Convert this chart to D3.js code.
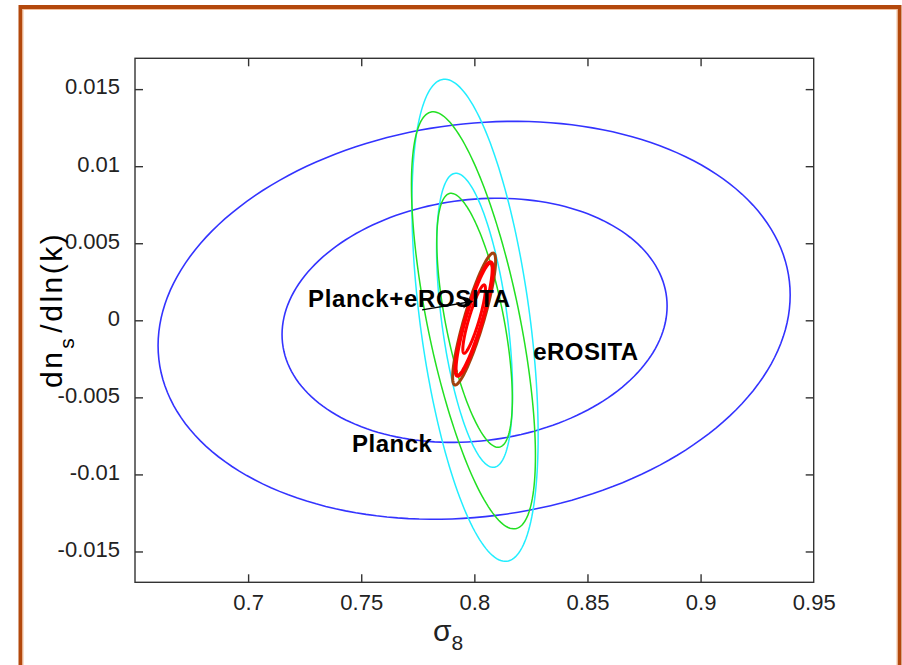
<!DOCTYPE html>
<html>
<head>
<meta charset="utf-8">
<script src="https://cdn.jsdelivr.net/npm/d3@7/dist/d3.min.js"></script>
<style>
  body { margin: 0; background: #fff; }
  svg { display: block; }
  text { font-family: "Liberation Sans", Arial, sans-serif; }
</style>
</head>
<body>
<svg id="chart" width="902" height="665"></svg>
<script>
// contour ellipses (sigma8 vs running index)
var contourNames = ["Planck 2sig", "Planck 1sig", "eROSITA-b 2sig", "eROSITA-b 1sig",
                    "eROSITA-a 2sig", "eROSITA-a 1sig", "joint 2sig", "joint 1sig", "joint core"];
var centerSigma8 = [0.7999, 0.8001, 0.8003, 0.8001, 0.7996, 0.8001, 0.7999, 0.7999, 0.7999];
var centerRun    = [0.0000, 0.0000, 0.0000, 0.0000, 0.0000, 0.0000, 0.00008, 0.00008, 0.00008];
var halfSigma8   = [0.1397, 0.0851, 0.0279, 0.0168, 0.0274, 0.0167, 0.0095, 0.0082, 0.0050];
var halfRun      = [0.01291, 0.00792, 0.01564, 0.00954, 0.01353, 0.00824, 0.00428, 0.00368, 0.00222];
var correlation  = [0.127, 0.117, -0.48, -0.49, -0.65, -0.62, 0.88, 0.88, 0.88];

var xTicks = [0.7, 0.75, 0.8, 0.85, 0.9, 0.95];
var xTickLabels = ["0.7", "0.75", "0.8", "0.85", "0.9", "0.95"];
var yTicks = [0.015, 0.01, 0.005, 0, -0.005, -0.01, -0.015];
var yTickLabels = ["0.015", "0.01", "0.005", "0", "-0.005", "-0.01", "-0.015"];

// text labels and arrow, in data units
var labelTexts = ["Planck+eROSITA", "eROSITA", "Planck"];
var labelSigma8 = [0.7265, 0.8260, 0.7459];
var labelRun = [0.00086, -0.00258, -0.00855];
var arrowFrom = [0.7769, 0.00067];
var arrowTo = [0.7990, 0.00122];

// styles
var strokes = {
  "Planck 2sig": ["#3333ff", 1.6], "Planck 1sig": ["#3333ff", 1.6],
  "eROSITA-b 2sig": ["#22eeff", 1.5], "eROSITA-b 1sig": ["#22eeff", 1.5],
  "eROSITA-a 2sig": ["#22e022", 1.5], "eROSITA-a 1sig": ["#22e022", 1.5],
  "joint 2sig": ["#a3420e", 3], "joint 1sig": ["#ff0000", 4], "joint core": ["#ff0000", 3]
};
var labelWidths = [202, 105, 80];

var svg = d3.select("#chart");

// page frame
svg.append("rect")
  .attr("x", 20.5).attr("y", 7).attr("width", 879).attr("height", 720)
  .attr("fill", "none").attr("stroke", "#b3480c").attr("stroke-width", 4);
svg.append("rect")
  .attr("x", 23).attr("y", 9.5).attr("width", 874).attr("height", 720)
  .attr("fill", "none").attr("stroke", "#f2bf9c").attr("stroke-width", 1);

var plotLeft = 135, plotRight = 813.7, plotTop = 58.3, plotBottom = 582.3;

var x = d3.scaleLinear().domain([0.65, 0.95]).range([plotLeft, plotRight]);
var y = d3.scaleLinear().domain([-0.017, 0.017]).range([plotBottom, plotTop]);

svg.append("clipPath").attr("id", "plotclip")
  .append("rect").attr("x", plotLeft).attr("y", plotTop)
  .attr("width", plotRight - plotLeft).attr("height", plotBottom - plotTop);

// ellipse outline for contour i
function ellipse(i) {
  var r = correlation[i], q = Math.sqrt(1 - r * r);
  return d3.range(0, 360, 2).map(function(deg) {
    var t = deg * Math.PI / 180;
    return [centerSigma8[i] + halfSigma8[i] * Math.cos(t),
            centerRun[i] + halfRun[i] * (r * Math.cos(t) + q * Math.sin(t))];
  });
}

var line = d3.line()
  .x(function(d) { return x(d[0]); })
  .y(function(d) { return y(d[1]); })
  .curve(d3.curveLinearClosed);

svg.append("g").attr("clip-path", "url(#plotclip)")
  .selectAll("path")
  .data(contourNames)
  .enter()
  .append("path")
    .attr("d", function(d, i) { return line(ellipse(i)); })
    .attr("fill", "none")
    .attr("stroke", function(d) { return strokes[d][0]; })
    .attr("stroke-width", function(d) { return strokes[d][1]; });

// axes box, ticks inside like matlab
var axisColor = "#333";
svg.append("rect")
  .attr("x", plotLeft).attr("y", plotTop)
  .attr("width", plotRight - plotLeft).attr("height", plotBottom - plotTop)
  .attr("fill", "none").attr("stroke", axisColor).attr("stroke-width", 1.4);

var gx = svg.append("g").attr("transform", "translate(0," + plotBottom + ")")
  .call(d3.axisBottom(x).tickValues(xTicks).tickSize(-8).tickPadding(12)
    .tickFormat(function(d, i) { return xTickLabels[i]; }));
var gxTop = svg.append("g").attr("transform", "translate(0," + plotTop + ")")
  .call(d3.axisTop(x).tickValues(xTicks).tickSize(-8).tickFormat(""));
var gy = svg.append("g").attr("transform", "translate(" + plotLeft + ",0)")
  .call(d3.axisLeft(y).tickValues(yTicks).tickSize(-8).tickPadding(15)
    .tickFormat(function(d, i) { return yTickLabels[i]; }));
var gyRight = svg.append("g").attr("transform", "translate(" + plotRight + ",0)")
  .call(d3.axisRight(y).tickValues(yTicks).tickSize(-8).tickFormat(""));

[gx, gxTop, gy, gyRight].forEach(function(g) {
  g.select(".domain").remove();
  g.selectAll(".tick line").attr("stroke", axisColor).attr("stroke-width", 1.4);
  g.selectAll(".tick text")
    .attr("fill", "#222")
    .style("font-size", "22px")
    .style("font-family", "'Liberation Sans', Arial, sans-serif");
});
gy.selectAll(".tick text").attr("dy", "0.22em");
// no tick mark drawn at the right edge value
gx.selectAll(".tick").filter(function(d) { return d === 0.95; }).select("line").remove();
gxTop.selectAll(".tick").filter(function(d) { return d === 0.95; }).remove();

// arrow
svg.append("defs").append("marker")
  .attr("id", "head").attr("viewBox", "0 0 10 10")
  .attr("refX", 9).attr("refY", 5)
  .attr("markerWidth", 15).attr("markerHeight", 11)
  .attr("markerUnits", "userSpaceOnUse")
  .attr("orient", "auto")
  .append("path").attr("d", "M0,0 L10,5 L0,10 L3,5 Z").attr("fill", "#000");

svg.append("line")
  .attr("x1", x(arrowFrom[0])).attr("y1", y(arrowFrom[1]))
  .attr("x2", x(arrowTo[0])).attr("y2", y(arrowTo[1]))
  .attr("stroke", "#000").attr("stroke-width", 1.3)
  .attr("marker-end", "url(#head)");

svg.selectAll(".lbl")
  .data(labelTexts)
  .enter()
  .append("text")
    .attr("class", "lbl")
    .attr("x", function(d, i) { return x(labelSigma8[i]); })
    .attr("y", function(d, i) { return y(labelRun[i]); })
    .attr("textLength", function(d, i) { return labelWidths[i]; })
    .attr("lengthAdjust", "spacing")
    .attr("fill", "#000")
    .style("font-size", "24px")
    .style("font-weight", "bold")
    .text(function(d) { return d; });

// axis titles
var xt = svg.append("text")
  .attr("x", 433).attr("y", 641)
  .attr("fill", "#222")
  .style("font-size", "30px");
xt.append("tspan").text("σ");
xt.append("tspan").attr("dy", 9).style("font-size", "21px").text("8");

var yt = svg.append("text")
  .attr("transform", "translate(62,388) rotate(-90)")
  .attr("fill", "#000")
  .style("font-size", "30px")
  .style("letter-spacing", "2.5px");
yt.append("tspan").text("dn");
yt.append("tspan").attr("dy", 12).attr("dx", 1).style("font-size", "21px").text("s");
yt.append("tspan").attr("dy", -12).attr("dx", 3).text("/dln(k)");
</script>
</body>
</html>
